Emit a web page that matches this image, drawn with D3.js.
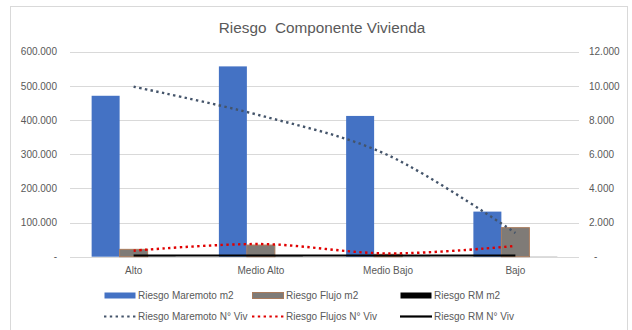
<!DOCTYPE html>
<html>
<head>
<meta charset="utf-8">
<script src="https://cdn.jsdelivr.net/npm/d3@7/dist/d3.min.js"></script>
<style>
  html, body { margin: 0; padding: 0; background: #fff; }
  svg { display: block; font-family: "Liberation Sans", Arial, sans-serif; }
</style>
</head>
<body>
<svg id="chart" width="632" height="330"></svg>
<script>
// Risk levels on the x axis
const categories = ["Alto", "Medio Alto", "Medio Bajo", "Bajo"];

// Bar series (m2, left axis)
const maremotoM2 = [471000, 557000, 412000, 132000];
const flujoM2    = [21500, 34000, 7000, 85000];
const rmM2       = [600, 900, 500, 400];

// Line series (N° viviendas, right axis)
const maremotoViv = [9950, 8260, 5940, 1390];
const flujosViv   = [350, 740, 190, 630];
const rmViv       = [70, 70, 70, 70];

// Axis tick values
const leftTicks  = [0, 100000, 200000, 300000, 400000, 500000, 600000];
const rightTicks = [0, 2000, 4000, 6000, 8000, 10000, 12000];

const svg = d3.select("#chart");
const plot = { left: 70, right: 579, top: 51.7, bottom: 256.7 };
const dotDash = "2.4 3.4";

// Chart frame
svg.append("rect")
  .attr("x", 10.5).attr("y", 6.5)
  .attr("width", 617).attr("height", 340)
  .attr("fill", "#fff").attr("stroke", "#d9d9d9");

// Title
svg.append("text")
  .attr("x", 322).attr("y", 33)
  .attr("text-anchor", "middle")
  .attr("font-size", 15.3)
  .attr("fill", "#595959")
  .attr("xml:space", "preserve")
  .text("Riesgo  Componente Vivienda");

const x0 = d3.scaleBand().domain(categories)
  .range([plot.left, plot.right]).paddingInner(0.34).paddingOuter(0.17);
const seriesKeys = ["maremoto", "flujo", "rm"];
const x1 = d3.scaleBand().domain(seriesKeys).range([0, x0.bandwidth()]);
const yL = d3.scaleLinear().domain([0, 600000]).range([plot.bottom, plot.top]);
const yR = d3.scaleLinear().domain([0, 12000]).range([plot.bottom, plot.top]);

const fmt = v => v === 0 ? "-" : d3.format(",")(v).replace(/,/g, ".");

// Gridlines
svg.append("g").selectAll("line").data(leftTicks).join("line")
  .attr("x1", plot.left).attr("x2", plot.right)
  .attr("y1", d => Math.round(yL(d)) + 0.5).attr("y2", d => Math.round(yL(d)) + 0.5)
  .attr("stroke", "#d9d9d9").attr("stroke-width", 1);

// Left axis
const axL = svg.append("g").attr("transform", `translate(${plot.left - 13},0)`)
  .call(d3.axisLeft(yL).tickValues(leftTicks).tickFormat(fmt).tickSize(0).tickPadding(0));
axL.select(".domain").remove();
axL.selectAll("text").attr("font-size", 10).attr("fill", "#595959")
  .attr("font-family", "Liberation Sans, Arial, sans-serif");

// Right axis
const axR = svg.append("g").attr("transform", `translate(${plot.right + 10},0)`)
  .call(d3.axisRight(yR).tickValues(rightTicks).tickFormat(fmt).tickSize(0).tickPadding(0));
axR.select(".domain").remove();
axR.selectAll("text").attr("font-size", 10).attr("fill", "#595959")
  .attr("font-family", "Liberation Sans, Arial, sans-serif")
  .attr("dx", d => d === 0 ? 5 : 0);

// Category axis labels
const axX = svg.append("g").attr("transform", `translate(0,${plot.bottom + 6})`)
  .call(d3.axisBottom(x0).tickSize(0).tickPadding(4));
axX.select(".domain").remove();
axX.selectAll("text").attr("font-size", 10).attr("fill", "#595959")
  .attr("font-family", "Liberation Sans, Arial, sans-serif");

// Bars
const barRows = categories.map((c, i) => ({
  cat: c,
  vals: [
    { key: "maremoto", v: maremotoM2[i] },
    { key: "flujo", v: flujoM2[i] },
    { key: "rm", v: rmM2[i] }
  ]
}));
const barFill = { maremoto: "#4472c4", flujo: "#7f7b77", rm: "#000000" };
const barStroke = { maremoto: "none", flujo: "#a97b5c", rm: "none" };

svg.append("g").selectAll("g").data(barRows).join("g")
  .attr("transform", d => `translate(${x0(d.cat)},0)`)
  .selectAll("rect").data(d => d.vals).join("rect")
  .attr("x", d => x1(d.key))
  .attr("width", x1.bandwidth())
  .attr("y", d => yL(d.v))
  .attr("height", d => plot.bottom - yL(d.v))
  .attr("fill", d => barFill[d.key])
  .attr("stroke", d => barStroke[d.key])
  .attr("stroke-width", 1);

// Lines
const cx = c => x0(c) + x0.bandwidth() / 2;
const smooth = d3.line().x((d, i) => cx(categories[i])).y(d => yR(d))
  .curve(d3.curveCardinal.tension(0));
const straight = d3.line().x((d, i) => cx(categories[i])).y(d => yR(d));

svg.append("path").attr("d", straight(rmViv))
  .attr("fill", "none").attr("stroke", "#000").attr("stroke-width", 2.2);
svg.append("path").attr("d", smooth(flujosViv))
  .attr("fill", "none").attr("stroke", "#e00000").attr("stroke-width", 2.4)
  .attr("stroke-dasharray", dotDash).attr("stroke-linecap", "butt");
svg.append("path").attr("d", smooth(maremotoViv))
  .attr("fill", "none").attr("stroke", "#44546a").attr("stroke-width", 2.4)
  .attr("stroke-dasharray", dotDash).attr("stroke-linecap", "butt");

// Legend
const legendItems = [
  { label: "Riesgo Maremoto m2", type: "bar", color: "#4472c4", stroke: "none", x: 104, y: 295.5 },
  { label: "Riesgo Flujo m2", type: "bar", color: "#7f7b77", stroke: "#a97b5c", x: 252, y: 295.5 },
  { label: "Riesgo RM m2", type: "bar", color: "#000", stroke: "none", x: 400, y: 295.5 },
  { label: "Riesgo Maremoto N° Viv", type: "dot", color: "#44546a", x: 104, y: 316.5 },
  { label: "Riesgo Flujos N° Viv", type: "dot", color: "#e00000", x: 252, y: 316.5 },
  { label: "Riesgo RM N° Viv", type: "line", color: "#000", x: 400, y: 316.5 }
];
const lg = svg.append("g").selectAll("g").data(legendItems).join("g")
  .attr("transform", d => `translate(${d.x},${d.y})`);
lg.filter(d => d.type === "bar").append("rect")
  .attr("x", 0.5).attr("y", -3).attr("width", 31).attr("height", 6)
  .attr("fill", d => d.color).attr("stroke", d => d.stroke);
lg.filter(d => d.type !== "bar").append("line")
  .attr("x1", 0).attr("x2", 32).attr("y1", 0).attr("y2", 0)
  .attr("stroke", d => d.color).attr("stroke-width", 2.2)
  .attr("stroke-dasharray", d => d.type === "dot" ? dotDash : null);
lg.append("text")
  .attr("x", 34).attr("y", 0).attr("dy", "0.35em")
  .attr("font-size", 10).attr("fill", "#595959")
  .text(d => d.label);
</script>
</body>
</html>
